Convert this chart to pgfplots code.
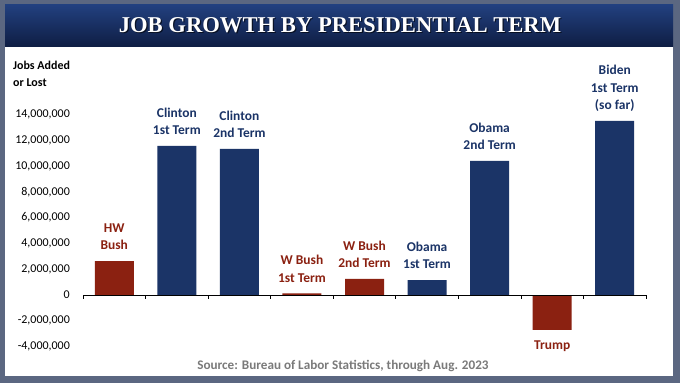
\documentclass[border=0pt]{standalone}
\usepackage{fontspec}
\setmainfont{Carlito}
\newfontfamily\titlefont{Liberation Serif}
\usepackage{pgfplots}
\pgfplotsset{compat=1.18}
\definecolor{slate}{HTML}{5B6781}
\definecolor{navy}{HTML}{1B3467}
\definecolor{brick}{HTML}{8B2111}
\definecolor{titletop}{HTML}{22407F}
\definecolor{titlebot}{HTML}{0F1E44}
\definecolor{srcgray}{HTML}{7A7A7A}
\tikzset{lab/.style={font=\bfseries\fontsize{13.5}{17.5}\selectfont, align=center, inner sep=0pt}}
\begin{document}
\begin{tikzpicture}[x=1bp,y=1bp]
\fill[slate] (0,0) rectangle (680,383);
\fill[white] (5,7) rectangle (673,378);
\shade[top color=titletop,bottom color=titlebot] (5,337) rectangle (673,378);
\node[text=black, opacity=0.6] at (341.2,356.8) {\titlefont\bfseries\fontsize{22.7}{26}\selectfont JOB GROWTH BY PRESIDENTIAL TERM};
\node[text=white] at (340,358) {\titlefont\bfseries\fontsize{22.7}{26}\selectfont JOB GROWTH BY PRESIDENTIAL TERM};
\node[anchor=north west, align=left, inner sep=0pt, font=\bfseries\fontsize{12}{17}\selectfont] at (13,322) {Jobs Added\\or Lost};
\node[text=srcgray, font=\bfseries\fontsize{13.2}{15}\selectfont] at (343,17) {Source: Bureau of Labor Statistics, through Aug. 2023};
\begin{axis}[at={(83bp,23.5bp)}, anchor=south west, scale only axis,
  width=563bp, height=258bp, xmin=-0.5, xmax=8.5, ymin=-5000000, ymax=15000000,
  clip=false,
  axis line style={draw=none}, tick style={draw=none},
  xtick=\empty,
  ytick={-4000000,-2000000,0,2000000,4000000,6000000,8000000,10000000,12000000,14000000},
  scaled y ticks=false,
  /pgf/number format/fixed, /pgf/number format/precision=0,
  /pgf/number format/1000 sep={,}, /pgf/number format/assume math mode=true,
  yticklabel style={font=\fontsize{12}{14}\selectfont, anchor=east, inner sep=0pt, xshift=-13bp},
]
\addplot[ybar, bar width=39bp, bar shift=0pt, fill=brick, draw=none] coordinates {(0,2635000) (3,120000) (4,1250000) (7,-2700000)};
\addplot[ybar, bar width=39bp, bar shift=0pt, fill=navy, draw=none] coordinates {(1,11554000) (2,11327000) (5,1150000) (6,10400000) (8,13500000)};
\draw[black, line width=0.8bp] (axis cs:-0.5,0) -- (axis cs:8.5,0);
\pgfplotsinvokeforeach{-0.5,0.5,1.5,2.5,3.5,4.5,5.5,6.5,7.5,8.5}{\draw[black, line width=0.8bp] (axis cs:#1,0) -- ([yshift=-4bp]axis cs:#1,0);}
\node[lab, text=brick, anchor=south] at ([yshift=11bp]axis cs:0,2635000) {HW\\Bush};
\node[lab, text=navy, anchor=south] at ([yshift=11bp]axis cs:1,11554000) {Clinton\\1st Term};
\node[lab, text=navy, anchor=south] at ([yshift=11bp]axis cs:2,11327000) {Clinton\\2nd Term};
\node[lab, text=brick, anchor=south] at ([yshift=11bp]axis cs:3,120000) {W Bush\\1st Term};
\node[lab, text=brick, anchor=south] at ([yshift=11bp]axis cs:4,1250000) {W Bush\\2nd Term};
\node[lab, text=navy, anchor=south] at ([yshift=11bp]axis cs:5,1150000) {Obama\\1st Term};
\node[lab, text=navy, anchor=south] at ([yshift=11bp]axis cs:6,10400000) {Obama\\2nd Term};
\node[lab, text=brick, anchor=north] at ([yshift=-11bp]axis cs:7,-2700000) {Trump};
\node[lab, text=navy, anchor=south] at ([yshift=9bp]axis cs:8,13500000) {Biden\\1st Term\\(so far)};
\end{axis}
\end{tikzpicture}
\end{document}
